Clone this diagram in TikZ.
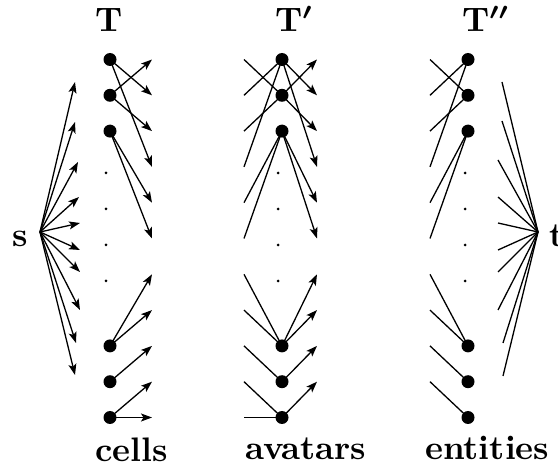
\documentclass[tikz,border=0pt]{standalone}
\usepackage{graphicx}
\usetikzlibrary{arrows.meta}
\newcommand{\biglab}[1]{\scalebox{3.4}{\normalsize\bfseries\boldmath #1}}
\begin{document}
\begin{tikzpicture}[x=1pt,y=-1pt,
  edge/.style={line width=1.3pt},
  arr/.style={edge,-{Stealth[length=11pt,width=8pt,inset=2.5pt]}},
  bigdot/.style={circle,fill=black,inner sep=0pt,minimum size=13pt},
  smalldot/.style={circle,fill=black,inner sep=0pt,minimum size=3pt},
  lab/.style={inner sep=0pt,anchor=base west}]
\useasboundingbox (0,0) rectangle (558,468);
% levels
\foreach \k in {0,...,10}{
  \pgfmathsetmacro{\yy}{59.5+35.8*\k}
  \coordinate (tr\k) at (152,\yy);
  \coordinate (pl\k) at (244,\yy);
  \coordinate (pr\k) at (317,\yy);
  \coordinate (ql\k) at (430,\yy);
}
\foreach \k in {0,1,2,8,9,10}{
  \pgfmathsetmacro{\yy}{59.5+35.8*\k}
  \node[bigdot] (a\k) at (110,\yy) {};
  \node[bigdot] (b\k) at (282,\yy) {};
  \node[bigdot] (c\k) at (468,\yy) {};
}
\foreach \i/\yy in {1/173,2/209,3/245,4/281}{
  \node[smalldot] (da\i) at (106,\yy) {};
  \node[smalldot] (db\i) at (278,\yy) {};
  \node[smalldot] (dc\i) at (465,\yy) {};
}
% T edges
\foreach \f/\t in {0/1,0/3,1/0,1/2,2/4,2/5,8/6,8/7,9/8,10/9,10/10}
  \draw[arr] (a\f.center) -- (tr\t);
% T' edges
\foreach \f/\t in {0/1,1/0,2/1,3/0,4/2,5/2,6/8,7/8,8/9,9/10,10/10}
  \draw[edge] (pl\f) -- (b\t.center);
\foreach \f/\t in {0/1,0/3,1/0,1/2,2/4,2/5,8/6,8/7,9/8,10/9}
  \draw[arr] (b\f.center) -- (pr\t);
% T'' edges
\foreach \f/\t in {0/1,1/0,2/1,3/0,4/2,5/2,6/8,7/8,8/9,9/10}
  \draw[edge] (ql\f) -- (c\t.center);
% s fan
\coordinate (s0) at (40,232);
\foreach \i/\xx/\yy in {1/75/82,2/75/122,3/78/162,4/79/197,5/80/223,6/80/250,7/80/272,8/80/310,9/76/343,10/75/375}{
  \coordinate (sa\i) at (\xx,\yy);
  \draw[arr] (s0) -- (sa\i);
}
% t fan
\coordinate (t0) at (538,232);
\foreach \i/\xx/\yy in {1/502/82,2/502/121,3/498/160,4/498/197,5/498/223,6/498/250,7/498/272,8/498/310,9/503/343,10/503/376}{
  \coordinate (tb\i) at (\xx,\yy);
  \draw[edge] (tb\i) -- (t0);
}
% labels
\node[lab] (lT) at (95,32) {\biglab{T}};
\node[lab] (lT1) at (275,32) {\biglab{T$'$}};
\node[lab] (lT2) at (462,32) {\biglab{T$''$}};
\node[lab] (ls) at (12,247) {\biglab{s}};
\node[lab] (lt) at (549,247) {\biglab{t}};
\node[lab] (lc) at (95,461) {\biglab{cells}};
\node[lab] (lav) at (245,460) {\biglab{avatars}};
\node[lab] (len) at (425,460) {\biglab{entities}};
\end{tikzpicture}
\end{document}
